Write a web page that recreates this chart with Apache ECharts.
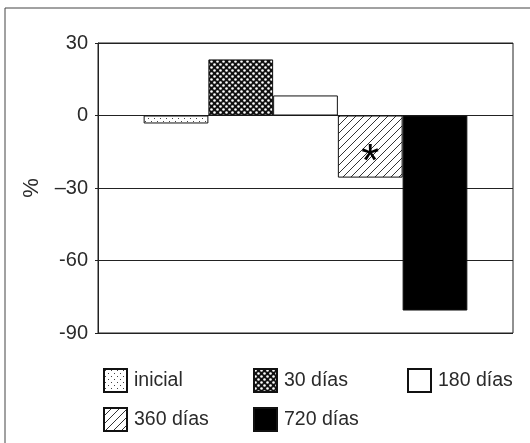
<!DOCTYPE html>
<html>
<head>
<meta charset="utf-8">
<script src="https://cdn.jsdelivr.net/npm/echarts@6/dist/echarts.min.js"></script>
<style>
html,body{margin:0;padding:0;background:#fff;}
#chart{width:530px;height:443px;}
</style>
</head>
<body>
<div id="chart"></div>
<script>
// ---- data ----
var categories = ['grupo'];
var seriesNames = ['inicial', '30 días', '180 días', '360 días', '720 días'];
var valInicial = [-3.3];
var val30 = [23.2];
var val180 = [8.3];
var val360 = [-25.7];
var val720 = [-80.7];
var yTickValues = [30, 0, -30, -60, -90];
var yTickLabels = ['30', '0', '\u201330', '-60', '-90'];

// ---- patterns ----
function makeCanvas(w, h, draw) {
  var c = document.createElement('canvas');
  c.width = w; c.height = h;
  var ctx = c.getContext('2d');
  draw(ctx, w, h);
  return c;
}
var patInicial = makeCanvas(6, 6, function (ctx, w, h) {
  ctx.fillStyle = '#fff'; ctx.fillRect(0, 0, w, h);
  ctx.fillStyle = '#444';
  ctx.fillRect(1, 1, 1, 1);
  ctx.fillRect(4, 4, 1, 1);
});
var pat30 = makeCanvas(6, 6, function (ctx, w, h) {
  ctx.fillStyle = '#111'; ctx.fillRect(0, 0, w, h);
  ctx.fillStyle = '#fff';
  ctx.beginPath(); ctx.arc(1.5, 1.5, 1.3, 0, Math.PI * 2); ctx.fill();
  ctx.beginPath(); ctx.arc(4.5, 4.5, 1.3, 0, Math.PI * 2); ctx.fill();
});
var pat360 = makeCanvas(8, 8, function (ctx, w, h) {
  ctx.fillStyle = '#fff'; ctx.fillRect(0, 0, w, h);
  ctx.strokeStyle = '#333'; ctx.lineWidth = 1;
  ctx.beginPath();
  ctx.moveTo(-1, 9); ctx.lineTo(9, -1);
  ctx.moveTo(-1, 1); ctx.lineTo(1, -1);
  ctx.moveTo(7, 9); ctx.lineTo(9, 7);
  ctx.stroke();
});

var chart = echarts.init(document.getElementById('chart'), null, {renderer: 'canvas'});
var font = 'Liberation Sans';
var textColor = '#2a2a2a';

function barSeries(name, data, fill, extra) {
  var s = {
    name: name,
    type: 'bar',
    data: data,
    barGap: '0%',
    barCategoryGap: '22%',
    itemStyle: {color: fill, borderColor: '#111', borderWidth: 1},
    emphasis: {disabled: true},
    animation: false
  };
  if (extra) for (var k in extra) s[k] = extra[k];
  return s;
}

var legendCommon = {
  orient: 'vertical',
  top: 363,
  itemWidth: 23,
  itemHeight: 23,
  itemGap: 14,
  icon: 'rect',
  textStyle: {fontFamily: font, fontSize: 19.5, color: textColor, padding: [0, 0, 0, 2]},
  selectedMode: false
};

var option = {
  backgroundColor: '#fff',
  animation: false,
  textStyle: {fontFamily: font},
  graphic: [{
    type: 'rect',
    shape: {x: 5, y: 8, width: 540, height: 460},
    style: {fill: 'none', stroke: '#444', lineWidth: 1},
    silent: true
  }],
  grid: {
    left: 98, right: 17, top: 43, bottom: 110,
    show: true, borderColor: '#222', borderWidth: 1, backgroundColor: 'transparent'
  },
  legend: [
    Object.assign({left: 98, data: [seriesNames[0], seriesNames[3]]}, legendCommon),
    Object.assign({left: 248, data: [seriesNames[1], seriesNames[4]]}, legendCommon),
    Object.assign({left: 402, data: [seriesNames[2]]}, legendCommon)
  ],
  xAxis: {
    type: 'category',
    data: categories,
    axisLine: {show: false},
    axisTick: {show: false},
    axisLabel: {show: false},
    splitLine: {show: false}
  },
  yAxis: {
    type: 'value',
    min: -90, max: 30, interval: 30,
    name: '%',
    nameLocation: 'middle',
    nameRotate: 90,
    nameGap: 55,
    nameTextStyle: {fontFamily: font, fontSize: 22, color: textColor},
    axisLine: {show: true, lineStyle: {color: '#222', width: 1}},
    axisTick: {show: true, length: 3, lineStyle: {color: '#222'}},
    axisLabel: {
      margin: 10,
      fontFamily: font, fontSize: 20, color: textColor,
      formatter: function (v) {
        var i = yTickValues.indexOf(v);
        return i >= 0 ? yTickLabels[i] : String(v);
      }
    },
    splitLine: {show: true, lineStyle: {color: '#222', width: 1}}
  },
  series: [
    barSeries(seriesNames[0], valInicial, {image: patInicial, repeat: 'repeat'}),
    barSeries(seriesNames[1], val30, {image: pat30, repeat: 'repeat'}),
    barSeries(seriesNames[2], val180, '#fff'),
    barSeries(seriesNames[3], val360, {image: pat360, repeat: 'repeat'}, {
      label: {
        show: true, position: 'inside', formatter: '*',
        fontFamily: font, fontSize: 46, color: '#000', offset: [0, 17]
      }
    }),
    barSeries(seriesNames[4], val720, '#000')
  ]
};
chart.setOption(option);
</script>
</body>
</html>
